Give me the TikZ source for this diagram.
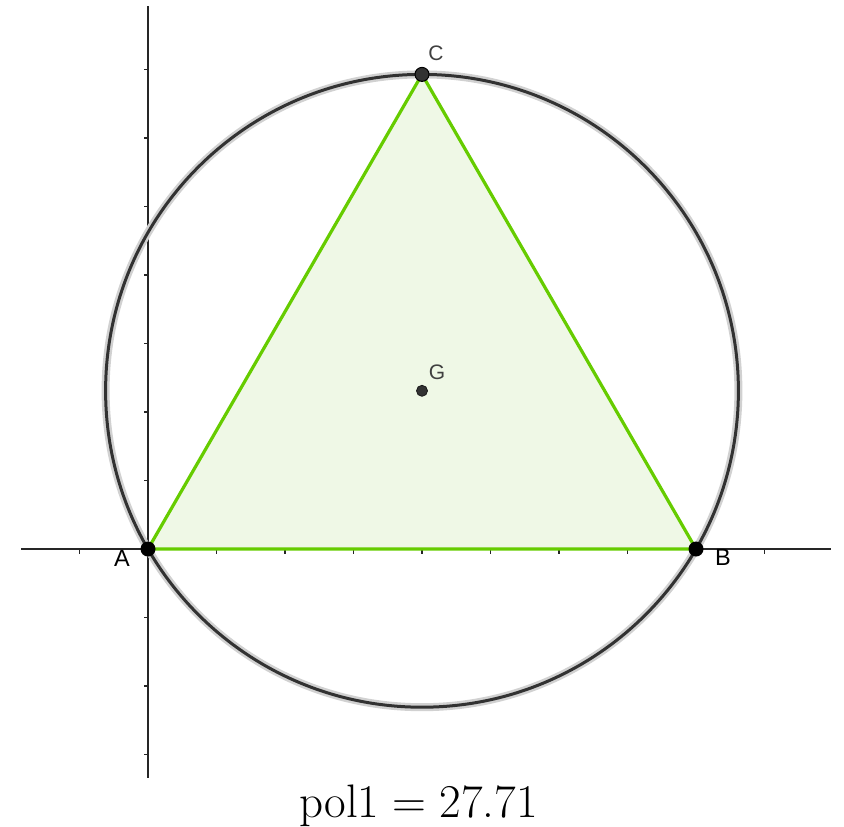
\documentclass[tikz,border=0pt]{standalone}
\usepackage{fontspec}
\setsansfont{Liberation Sans}
\definecolor{geogreen}{RGB}{102,204,0}
\definecolor{geofill}{RGB}{239,248,230}
\definecolor{geodark}{RGB}{50,50,50}
\begin{document}
\begin{tikzpicture}[x=1pt,y=-1pt,
  axisline/.style={draw=black!85, line width=1.8pt},
  tickmark/.style={draw=black!85, line width=1.2pt},
  circhalo/.style={draw=black!18, line width=8pt},
  circline/.style={draw=geodark, line width=3pt},
  tri/.style={draw=geogreen, line width=3.2pt, fill=geofill, line join=round},
  ptblack/.style={circle, fill=black, inner sep=0pt, minimum size=15pt},
  ptgray/.style={circle, fill=geodark, draw=black, line width=1pt, inner sep=0pt, minimum size=14pt},
  ptsmall/.style={circle, fill=geodark, draw=black!90, line width=0.8pt, inner sep=0pt, minimum size=11pt},
  ptlabel/.style={font=\sffamily\fontsize{21}{24}\selectfont, text=black!75, inner sep=0pt},
  ptlabelb/.style={font=\sffamily\fontsize{23.5}{26}\selectfont, text=black, inner sep=0pt}]
\useasboundingbox (0,0) rectangle (844,827);
\coordinate (A) at (148,549);
\coordinate (B) at (696,549);
\coordinate (C) at (422,74.4);
\coordinate (G) at (422,390.8);
\coordinate (xl) at (21,549);
\coordinate (xr) at (831,549);
\coordinate (yt) at (148,6);
\coordinate (yb) at (148,778);
% axes
\draw[axisline] (xl) -- (xr);
\draw[axisline] (yt) -- (yb);
\foreach \k in {-1,1,2,3,4,5,6,7,8,9}{
  \draw[tickmark] ({148+68.5*\k},549) -- ++(0,4.5);
}
\foreach \k in {-3,-2,-1,1,2,3,4,5,6,7}{
  \draw[tickmark] (148,{549-68.5*\k}) -- ++(-4.5,0);
}
% triangle
\path[tri] (A) -- (B) -- (C) -- cycle;
% circle
\draw[circhalo] (G) circle (316.4);
\draw[circline] (G) circle (316.4);
% points
\node[ptblack] (pA) at (A) {};
\node[ptblack] (pB) at (B) {};
\node[ptgray] (pC) at (C) {};
\node[ptsmall] (pG) at (G) {};
\node[ptlabelb] (lA) at (122,558) {A};
\node[ptlabelb] (lB) at (723,557) {B};
\node[ptlabel] (lC) at (436,53) {C};
\node[ptlabel] (lG) at (437,372) {G};
\node[anchor=base, inner sep=0pt, font=\fontsize{47}{52}\selectfont] (val) at (418.5,817) {pol1\hspace{0.28em}=\hspace{0.28em}27.71};
\end{tikzpicture}
\end{document}
